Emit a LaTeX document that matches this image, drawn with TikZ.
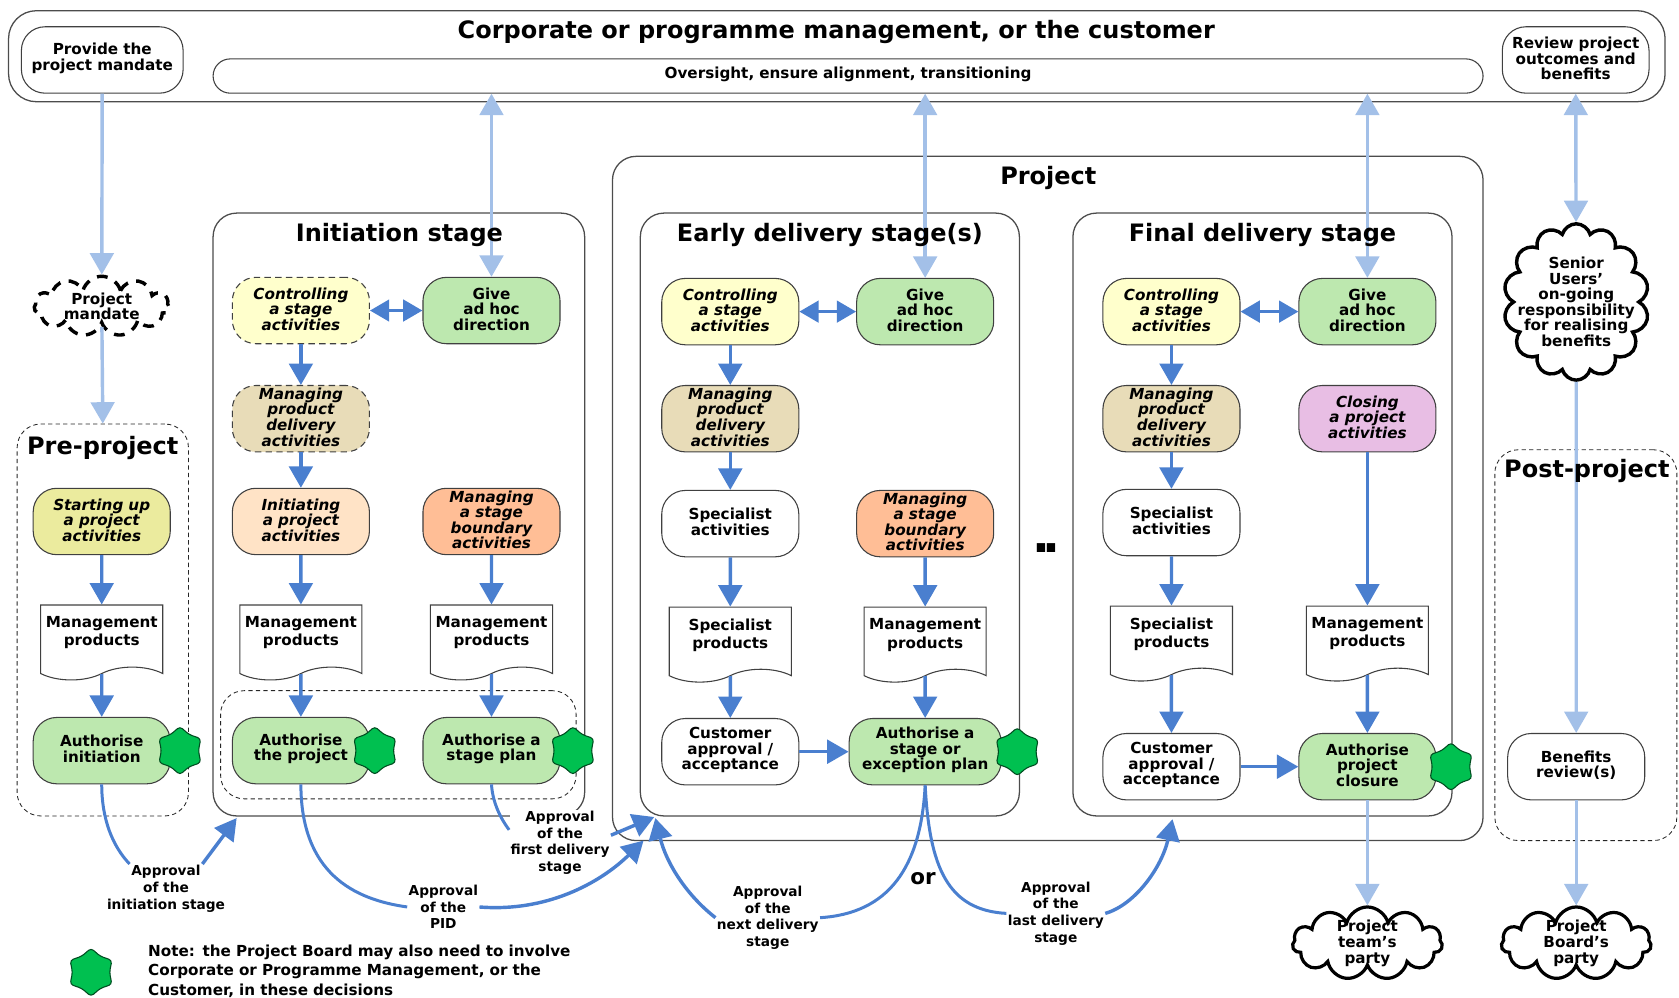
\documentclass[tikz,border=0pt]{standalone}
\usepackage{fontspec}
\setmainfont{DejaVu Sans}
\usetikzlibrary{shapes,arrows,arrows.meta}
\definecolor{darkflow}{HTML}{4A7FCF}
\definecolor{lightflow}{HTML}{A3C0E8}
\definecolor{startcol}{HTML}{EBEB9E}
\definecolor{controlcol}{HTML}{FFFFCC}
\definecolor{deliverycol}{HTML}{E8DCB8}
\definecolor{initcol}{HTML}{FFE3C6}
\definecolor{boundarycol}{HTML}{FFBE96}
\definecolor{decidecol}{HTML}{BDE8AF}
\definecolor{closecol}{HTML}{E8BEE4}
\definecolor{burstcol}{HTML}{00C050}
\tikzstyle{process} = [rectangle, draw=black!75, rounded corners=11pt, line width=0.5pt,
    minimum width=64pt, minimum height=31pt, text width=63pt, text centered, inner sep=0pt,
    execute at end node={\endgraf\vspace*{1.5pt}},
    font=\fontsize{7.1}{7.25}\selectfont\bfseries]
\tikzstyle{activity} = [process, font=\fontsize{7.1}{7.25}\selectfont\bfseries\itshape]
\tikzstyle{document} = [tape, tape bend top=none, tape bend bottom=in and out, tape bend height=6pt,
    draw=black!75, fill=white, line width=0.5pt, minimum width=57pt, minimum height=35pt, text width=56pt,
    text centered, inner sep=0pt, execute at end node={\endgraf\vspace*{3pt}},
    font=\fontsize{7.1}{8.5}\selectfont\bfseries]
\tikzstyle{burst} = [star, star points=6, star point ratio=1.3, draw=black!60!burstcol, fill=burstcol,
    line width=0.5pt, minimum size=22.5pt, inner sep=0pt, rounded corners=1.5pt]
\tikzstyle{stagebox} = [rectangle, draw=black!70, rounded corners=11pt, line width=0.6pt, inner sep=0pt]
\tikzstyle{phasebox} = [stagebox, draw=black!85, dash pattern=on 2pt off 1.5pt, line width=0.4pt]
\tikzstyle{title} = [font=\fontsize{11.2}{13}\selectfont\bfseries, inner sep=0pt]
\tikzstyle{puff} = [cloud, cloud puffs=11, cloud ignores aspect, draw=black, line width=1.5pt, fill=white,
    inner sep=-6pt, align=center, font=\fontsize{7.1}{7.25}\selectfont\bfseries]
\tikzstyle{approval} = [fill=white, inner sep=0.5pt, align=center, font=\fontsize{6.4}{7.75}\selectfont\bfseries]
\tikzstyle{line} = [draw, darkflow, line width=1.6pt, -{Triangle[length=10pt,width=11pt]}]
\tikzstyle{curve} = [draw, darkflow, line width=1.4pt]
\tikzstyle{lightline} = [draw, lightflow, line width=1.6pt, -{Triangle[length=10pt,width=11pt]}]
\tikzstyle{lightboth} = [draw, lightflow, line width=1.6pt, {Triangle[length=10pt,width=11pt]}-{Triangle[length=10pt,width=11pt]}]
\tikzstyle{both} = [draw, darkflow, line width=1.6pt, {Triangle[length=9pt,width=10pt]}-{Triangle[length=9pt,width=10pt]}]

\begin{document}
\begin{tikzpicture}[x=0.5pt, y=-0.5pt]
    \useasboundingbox (0,0) rectangle (1568,932);
    % Place boxes

    \node [stagebox, rounded corners=13pt, minimum width=773.5pt, minimum height=42.5pt] (corporate) at (781.5,52.5) {};
    \node [stagebox, minimum width=406.5pt, minimum height=319.5pt] (project) at (978.5,465.5) {};
    \node [stagebox, minimum width=173.5pt, minimum height=281.5pt] (initiation) at (372.5,480.5) {};
    \node [stagebox, minimum width=177pt, minimum height=281.5pt] (early) at (775,480.5) {};
    \node [stagebox, minimum width=177pt, minimum height=281.5pt] (final) at (1179,480.5) {};
    \node [phasebox, minimum width=80pt, minimum height=183pt] (preproject) at (96,579) {};
    \node [phasebox, minimum width=85pt, minimum height=182.5pt] (postproject) at (1481,602.5) {};
    \node [phasebox, minimum width=166pt, minimum height=50.5pt] (authgroup) at (372,695.5) {};

    % Place nodes

    \node [process, fill=white, minimum width=75.5pt, text width=74pt] (mandate) at (95.5,56) {Provide the\\ project mandate};
    \node [process, fill=white, minimum width=593pt, minimum height=16pt, rounded corners=8pt, text width=500pt] (oversight) at (792,71) {Oversight, ensure alignment, transitioning};
    \node [process, fill=white, minimum width=68.5pt, text width=68pt] (review) at (1471.5,56) {Review project\\ outcomes and\\ benefits};
    \node [puff, dash pattern=on 5pt off 4pt, line width=1.6pt, minimum width=63pt, minimum height=28pt] (mandatedoc) at (95,286) {Project\\ mandate};

    \node [activity, fill=startcol] (startup) at (95,487) {Starting up\\ a project\\ activities};
    \node [document, below of=startup, node distance=53.5pt] (mgmtpre) {Management\\ products};
    \node [process, fill=decidecol, below of=mgmtpre, node distance=53.5pt] (authinit) {Authorise\\ initiation};
    \node [burst, right of=authinit, node distance=36.5pt] (burstinit) {};

    \node [activity, fill=controlcol, densely dashed] (ctrlinit) at (281,290) {Controlling\\ a stage\\ activities};
    \node [activity, fill=deliverycol, densely dashed, below of=ctrlinit, node distance=50.5pt] (prodinit) {Managing\\ product\\ delivery\\ activities};
    \node [activity, fill=initcol, below of=prodinit, node distance=48pt] (initiating) {Initiating\\ a project\\ activities};
    \node [document, below of=initiating, node distance=53.5pt] (mgmtinit) {Management\\ products};
    \node [process, fill=decidecol, below of=mgmtinit, node distance=53.5pt] (authproj) {Authorise\\ the project};
    \node [burst, right of=authproj, node distance=34.5pt] (burstproj) {};
    \node [process, fill=decidecol] (adhocinit) at (459,290) {Give\\ ad hoc\\ direction};
    \node [activity, fill=boundarycol, below of=adhocinit, node distance=98.5pt] (boundinit) {Managing\\ a stage\\ boundary\\ activities};
    \node [document, below of=boundinit, node distance=53.5pt] (mgmtstage) {Management\\ products};
    \node [process, fill=decidecol, below of=mgmtstage, node distance=53.5pt] (authplan) {Authorise a\\ stage plan};
    \node [burst, right of=authplan, node distance=38pt] (burstplan) {};

    \node [activity, fill=controlcol] (ctrlearly) at (682,291) {Controlling\\ a stage\\ activities};
    \node [activity, fill=deliverycol, below of=ctrlearly, node distance=50pt] (prodearly) {Managing\\ product\\ delivery\\ activities};
    \node [process, fill=white, below of=prodearly, node distance=49pt] (specearly) {Specialist\\ activities};
    \node [document, below of=specearly, node distance=53.5pt] (prodsearly) {Specialist\\ products};
    \node [process, fill=white, below of=prodsearly, node distance=53pt] (custearly) {Customer\\ approval /\\ acceptance};
    \node [process, fill=decidecol] (adhocearly) at (864,291) {Give\\ ad hoc\\ direction};
    \node [activity, fill=boundarycol, below of=adhocearly, node distance=99pt] (boundearly) {Managing\\ a stage\\ boundary\\ activities};
    \node [document, below of=boundearly, node distance=53.5pt] (mgmtearly) {Management\\ products};
    \node [process, fill=decidecol, minimum width=71pt, text width=70pt, below of=mgmtearly, node distance=53pt] (authexcept) {Authorise a\\ stage or\\ exception plan};
    \node [burst, right of=authexcept, node distance=43pt] (burstexcept) {};

    \node [font=\fontsize{22}{22}\selectfont\bfseries, inner sep=0pt] (dots) at (977,512) {.\kern-3.5pt.};

    \node [activity, fill=controlcol] (ctrlfinal) at (1094,291) {Controlling\\ a stage\\ activities};
    \node [activity, fill=deliverycol, below of=ctrlfinal, node distance=50pt] (prodfinal) {Managing\\ product\\ delivery\\ activities};
    \node [process, fill=white, below of=prodfinal, node distance=48.5pt] (specfinal) {Specialist\\ activities};
    \node [document, below of=specfinal, node distance=53.5pt] (prodsfinal) {Specialist\\ products};
    \node [process, fill=white, below of=prodsfinal, node distance=60.5pt] (custfinal) {Customer\\ approval /\\ acceptance};
    \node [process, fill=decidecol] (adhocfinal) at (1277,291) {Give\\ ad hoc\\ direction};
    \node [activity, fill=closecol, below of=adhocfinal, node distance=50pt] (closing) {Closing\\ a project\\ activities};
    \node [document, below of=closing, node distance=102pt] (mgmtfinal) {Management\\ products};
    \node [process, fill=decidecol, below of=mgmtfinal, node distance=60.5pt] (authclose) {Authorise\\ project\\ closure};
    \node [burst, right of=authclose, node distance=39pt] (burstclose) {};

    \node [puff, cloud puffs=14, line width=1.6pt, inner sep=-10pt, minimum width=68pt, minimum height=73pt] (benefits) at (1472,282) {Senior\\ Users'\\ on-going\\ responsibility\\ for realising\\ benefits};
    \node [process, fill=white] (benreview) at (1472,716) {Benefits\\ review(s)};
    \node [puff, minimum width=70pt, minimum height=34pt] (teamparty) at (1277,881) {Project\\ team's\\ party};
    \node [puff, minimum width=70pt, minimum height=34pt] (boardparty) at (1472,881) {Project\\ Board's\\ party};

    \node [approval] (apprinit) at (155,830) {Approval\\ of the\\ initiation stage};
    \node [approval] (apprpid) at (414,847) {Approval\\ of the\\ PID};
    \node [approval] (apprfirst) at (523,787) {Approval\\ of the\\ first delivery\\ stage};
    \node [approval] (apprnext) at (717,857) {Approval\\ of the\\ next delivery\\ stage};
    \node [approval] (apprlast) at (986,853) {Approval\\ of the\\ last delivery\\ stage};
    \node [font=\fontsize{10}{12}\selectfont\bfseries, inner sep=0pt] (ortext) at (862,821) {or};

    \coordinate (initgoal) at (221,764);
    \coordinate (pidgoal) at (601,785);
    \coordinate (firstgoal) at (611,763);
    \coordinate (nextgoal) at (612,764);
    \coordinate (lastgoal) at (1095,765);

    % Draw edges
    \path [lightline] (mandate) -- (mandatedoc);
    \path [lightline] (mandatedoc) -- (preproject.north);
    \path [lightboth] (oversight.south -| adhocinit) -- (adhocinit);
    \path [lightboth] (oversight.south -| adhocearly) -- (adhocearly);
    \path [lightboth] (oversight.south -| adhocfinal) -- (adhocfinal);
    \path [lightboth] (review) -- (benefits);
    \path [lightline] (benefits) -- (benreview);
    \path [lightline] (benreview) -- (boardparty);
    \path [lightline] (authclose) -- (teamparty);

    \path [line] (startup) -- (mgmtpre);
    \path [line] (mgmtpre) -- (authinit);
    \path [line] (ctrlinit) -- (prodinit);
    \path [line] (prodinit) -- (initiating);
    \path [line] (initiating) -- (mgmtinit);
    \path [line] (mgmtinit) -- (authproj);
    \path [line] (boundinit) -- (mgmtstage);
    \path [line] (mgmtstage) -- (authplan);
    \path [both] (ctrlinit) -- (adhocinit);

    \path [line] (ctrlearly) -- (prodearly);
    \path [line] (prodearly) -- (specearly);
    \path [line] (specearly) -- (prodsearly);
    \path [line] (prodsearly) -- (custearly);
    \path [line] (boundearly) -- (mgmtearly);
    \path [line] (mgmtearly) -- (authexcept);
    \path [line] (custearly) -- (authexcept);
    \path [both] (ctrlearly) -- (adhocearly);

    \path [line] (ctrlfinal) -- (prodfinal);
    \path [line] (prodfinal) -- (specfinal);
    \path [line] (specfinal) -- (prodsfinal);
    \path [line] (prodsfinal) -- (custfinal);
    \path [line] (closing) -- (mgmtfinal);
    \path [line] (mgmtfinal) -- (authclose);
    \path [line] (custfinal) -- (authclose);
    \path [both] (ctrlfinal) -- (adhocfinal);

    \path [curve] (authinit.south) .. controls (95,765) and (105,790) .. ([xshift=-17pt]apprinit.north);
    \path [line] ([xshift=17pt]apprinit.north) -- (initgoal);
    \path [curve] (authproj.south) .. controls (281,815) and (330,840) .. (apprpid.west);
    \path [line] (apprpid.east) .. controls (510,852) and (560,825) .. (pidgoal);
    \path [curve] (authplan.south) .. controls (460,750) and (468,765) .. (apprfirst.west |- 0,775);
    \path [line] (apprfirst.east |- 0,780) -- (firstgoal);
    \path [curve] (authexcept.south) .. controls (860,810) and (830,853) .. (apprnext.east);
    \path [line] (apprnext.west) .. controls (640,835) and (622,805) .. (nextgoal);
    \path [curve] (authexcept.south) .. controls (868,810) and (885,850) .. (apprlast.west);
    \path [line] (apprlast.east) .. controls (1060,845) and (1085,810) .. (lastgoal);

    % Place titles
    \node [title] (corptitle) at (781,30) {Corporate or programme management, or the customer};
    \node [title] (projtitle) at (979,166) {Project};
    \node [title] (inittitle) at (373,219) {Initiation stage};
    \node [title] (earlytitle) at (775,219) {Early delivery stage(s)};
    \node [title] (finaltitle) at (1179,219) {Final delivery stage};
    \node [title] (pretitle) at (96,418) {Pre-project};
    \node [title] (posttitle) at (1482,440) {Post-project};

    \node [burst] (burstnote) at (85,908) {};
    \node [text width=225pt, inner sep=0pt, anchor=west, font=\fontsize{7.1}{9}\selectfont\bfseries] (note) at (138,907) {Note: the Project Board may also need to involve\\ Corporate or Programme Management, or the\\ Customer, in these decisions};
\end{tikzpicture}
\end{document}
